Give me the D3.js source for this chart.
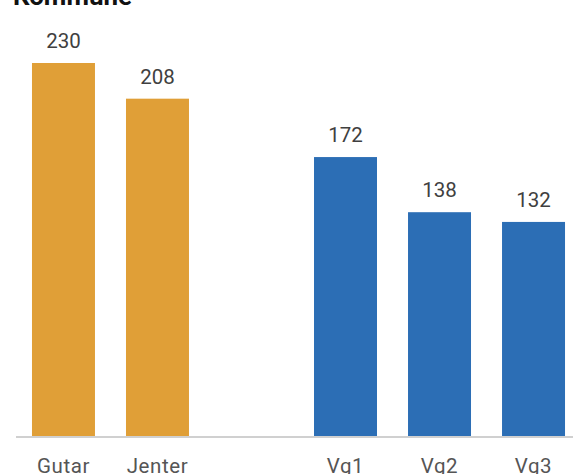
<!DOCTYPE html>
<html>
<head>
<meta charset="utf-8">
<script src="https://cdn.jsdelivr.net/npm/d3@7"></script>
<style>
  body { margin: 0; background: #fff; }
  text { font-family: Roboto, "Noto Sans", sans-serif; }
</style>
</head>
<body>
<div id="chart"></div>
<script>
// data
var categories = ["Gutar", "Jenter", "", "Vg1", "Vg2", "Vg3"];
var values = [230, 208, null, 172, 138, 132];
var groups = ["kjonn", "kjonn", "gap", "trinn", "trinn", "trinn"];
var groupColors = { kjonn: "#e09f37", trinn: "#2c6eb5" };
var title = "Kommune";

var width = 573;
var height = 474;

var svg = d3.select("#chart")
  .append("svg")
  .attr("width", width)
  .attr("height", height);

// title, mostly cut off at the top
svg.append("text")
  .attr("x", 13)
  .attr("y", 5)
  .attr("font-size", 26)
  .attr("font-weight", "bold")
  .attr("fill", "#111")
  .text(title);

var x = d3.scaleBand()
  .domain(d3.range(categories.length))
  .range([16, 581])
  .paddingInner(0.33)
  .paddingOuter(0.17);

var y = d3.scaleLinear()
  .domain([0, 230])
  .range([436, 63]);

var rows = categories.map(function(c, i) {
  return { cat: c, val: values[i], grp: groups[i], i: i };
});
var bars = rows.filter(function(d) { return d.val != null; });

// baseline
svg.append("line")
  .attr("x1", 16)
  .attr("x2", width)
  .attr("y1", y(0) + 1)
  .attr("y2", y(0) + 1)
  .attr("stroke", "#d0d0d0")
  .attr("stroke-width", 2);

svg.append("g").selectAll("rect")
  .data(bars)
  .enter().append("rect")
  .attr("x", function(d) { return x(d.i); })
  .attr("width", x.bandwidth())
  .attr("y", function(d) { return y(d.val); })
  .attr("height", function(d) { return y(0) - y(d.val); })
  .attr("fill", function(d) { return groupColors[d.grp]; });

// value labels
svg.append("g").selectAll("text")
  .data(bars)
  .enter().append("text")
  .attr("x", function(d) { return x(d.i) + x.bandwidth() / 2; })
  .attr("y", function(d) { return y(d.val) - 15; })
  .attr("text-anchor", "middle")
  .attr("font-size", 20.5)
  .attr("fill", "#404040")
  .text(function(d) { return d.val; });

// category labels
svg.append("g").selectAll("text")
  .data(bars)
  .enter().append("text")
  .attr("x", function(d) { return x(d.i) + x.bandwidth() / 2; })
  .attr("y", 473)
  .attr("text-anchor", "middle")
  .attr("font-size", 20.5)
  .attr("letter-spacing", 0.6)
  .attr("fill", "#555")
  .text(function(d) { return d.cat; });
</script>
</body>
</html>
